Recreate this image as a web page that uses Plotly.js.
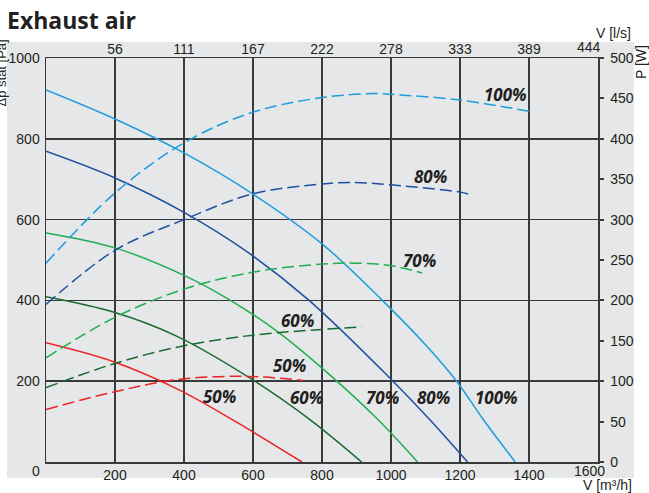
<!DOCTYPE html>
<html><head><meta charset="utf-8">
<script src="https://cdn.plot.ly/plotly-3.0.1.min.js"></script>
<style>html,body{margin:0;padding:0;background:#fff;}#chart{width:649px;height:493px;}</style>
</head><body><div id="chart"></div>
<script>
// Airflow V [m3/h] and static pressure Δp [Pa] (solid curves)
const pV100 = [0, 200, 400, 600, 800, 975, 1100, 1190, 1270, 1360];
const pP100 = [921, 849, 765, 663, 540, 400, 290, 200, 102, 0];
const pV80 = [0, 200, 400, 575, 760, 1000, 1110, 1222];
const pP80 = [769, 703, 618, 525, 402, 205, 107, 0];
const pV70 = [0, 200, 400, 531, 672, 834, 962, 1077];
const pP70 = [567, 530, 462, 402, 322, 207, 105, 0];
const pV60 = [0, 200, 380, 600, 765, 915];
const pP60 = [409, 370, 311, 203, 105, 0];
const pV50 = [0, 200, 380, 540, 742];
const pP50 = [295, 247, 181, 105, 0];
// Airflow V [m3/h] and power P [W] (dashed curves)
const wV100 = [0, 200, 400, 600, 800, 950, 1000, 1200, 1400];
const wP100 = [246, 333, 395, 433, 451, 456, 455, 448, 434];
const wV80 = [0, 200, 400, 600, 800, 880, 1000, 1200, 1238];
const wP80 = [195, 262, 300, 332, 344, 346, 343, 334, 330];
const wV70 = [0, 200, 400, 600, 800, 900, 1000, 1090];
const wP70 = [129, 179, 214, 235, 245, 246, 243, 234];
const wV60 = [0, 200, 390, 600, 800, 915];
const wP60 = [92, 122, 143, 157, 164, 167];
const wV50 = [0, 200, 380, 575, 746];
const wP50 = [65, 87, 102, 106, 101];
// Axis ticks
const m3hTicks = [200, 400, 600, 800, 1000, 1200, 1400];
const paTicks = [200, 400, 600, 800, 1000];
const lsTicks = [200, 400, 600, 800, 1000, 1200, 1400];
const lsText = ['56', '111', '167', '222', '278', '333', '389'];
const speedLabels = ['100%', '80%', '70%', '60%', '50%'];

const colors = ['#1b9ddb', '#1f4f9f', '#1fae50', '#186a31', '#ec2227'];
const pV = [pV100, pV80, pV70, pV60, pV50], pP = [pP100, pP80, pP70, pP60, pP50];
const wV = [wV100, wV80, wV70, wV60, wV50], wP = [wP100, wP80, wP70, wP60, wP50];

const traces = [];
for (let i = 0; i < 5; i++) {
  traces.push({x: pV[i], y: pP[i], type: 'scatter', mode: 'lines', name: speedLabels[i],
    line: {color: colors[i], width: 1.5, shape: 'spline', smoothing: 1}, hoverinfo: 'skip'});
  traces.push({x: wV[i], y: wP[i], type: 'scatter', mode: 'lines', name: speedLabels[i] + ' P', xaxis: 'x2', yaxis: 'y2',
    line: {color: colors[i], width: 1.5, dash: '12px,5px', shape: 'spline', smoothing: 1}, hoverinfo: 'skip'});
}

const L = 46, R = 598, T = 58, B = 462;
const X = px => (px - L) / (R - L);
const Y = py => (B - py) / (B - T);
const tickFont = {family: 'Liberation Sans, Arial, sans-serif', size: 14, color: '#231f20'};
const pctFont = {family: 'Open Sans, sans-serif', size: 17, color: '#231f20', weight: 'bold', style: 'italic'};
const gridC = '#3a3a3a';

const pctPos = [
  [505, 95], [430, 176], [419, 260], [297, 320], [289, 365],
  [496, 397], [433, 397], [382, 397], [306, 397], [219, 396]
];
const pctText = speedLabels.concat(speedLabels);

const annotations = pctPos.map((p, i) => ({
  xref: 'paper', yref: 'paper', x: X(p[0]), y: Y(p[1]), text: pctText[i],
  showarrow: false, xanchor: 'center', yanchor: 'middle', font: pctFont
}));
annotations.push(
  {xref: 'paper', yref: 'paper', x: X(36), y: Y(471), text: '0', showarrow: false, xanchor: 'center', yanchor: 'middle', font: tickFont},
  {xref: 'paper', yref: 'paper', x: X(589), y: Y(471), text: '1600', showarrow: false, xanchor: 'center', yanchor: 'middle', font: tickFont},
  {xref: 'paper', yref: 'paper', x: X(589), y: Y(47), text: '444', showarrow: false, xanchor: 'center', yanchor: 'middle', font: tickFont},
  {xref: 'paper', yref: 'paper', x: X(633), y: Y(33), text: 'V [l/s]', showarrow: false, xanchor: 'right', yanchor: 'middle', font: tickFont},
  {xref: 'paper', yref: 'paper', x: X(634), y: Y(485), text: 'V [m³/h]', showarrow: false, xanchor: 'right', yanchor: 'middle', font: tickFont},
  {xref: 'paper', yref: 'paper', x: X(641), y: Y(43), text: 'P [W]', showarrow: false, textangle: -90, xanchor: 'center', yanchor: 'top', font: tickFont},
  {xref: 'paper', yref: 'paper', x: X(1), y: Y(38), text: 'Δp stat [Pa]', showarrow: false, textangle: -90, xanchor: 'center', yanchor: 'top', font: {family: 'Liberation Sans, Arial, sans-serif', size: 13, color: '#231f20'}}
);

const layout = {
  width: 649, height: 493,
  margin: {l: L, r: 649 - R, t: T, b: 493 - B, pad: 0},
  paper_bgcolor: '#ffffff', plot_bgcolor: '#e6e7e8',
  showlegend: false,
  title: {text: '<b>Exhaust air</b>', x: 7 / 649, xref: 'container', xanchor: 'left', y: 1 - 21 / 493, yref: 'container', yanchor: 'middle',
    font: {family: 'Open Sans, sans-serif', size: 23, color: '#231f20'}},
  xaxis: {range: [0, 1600], tickvals: m3hTicks, showgrid: true, gridcolor: gridC, gridwidth: 1.5,
    showline: true, linecolor: gridC, linewidth: 1.5, mirror: true, zeroline: false, ticks: '', tickfont: tickFont, fixedrange: true},
  xaxis2: {range: [0, 1600], overlaying: 'x', side: 'top', anchor: 'y', tickvals: lsTicks, ticktext: lsText, showgrid: false,
    showline: false, zeroline: false, ticks: '', tickfont: tickFont, fixedrange: true},
  yaxis: {range: [0, 1000], tickvals: paTicks, showgrid: true, gridcolor: gridC, gridwidth: 1.5, showline: true, linecolor: gridC, linewidth: 1.5,
    mirror: true, zeroline: false, ticks: '', tickfont: tickFont, ticklabelstandoff: 2, fixedrange: true},
  yaxis2: {range: [0, 500], dtick: 50, overlaying: 'y', side: 'right', anchor: 'x', showgrid: false, showline: true, linecolor: gridC, linewidth: 1.5,
    zeroline: false, ticks: 'outside', ticklen: 4, tickwidth: 2, tickcolor: gridC, tickfont: tickFont, ticklabelstandoff: 4, fixedrange: true},
  yaxis3: {range: [0, 500], dtick: 50, overlaying: 'y', side: 'right', anchor: 'x', showgrid: false, showline: false,
    zeroline: false, ticks: 'inside', ticklen: 4, tickwidth: 2, tickcolor: gridC, showticklabels: false, fixedrange: true},
  shapes: [{type: 'rect', xref: 'paper', yref: 'paper', x0: X(7), x1: X(634), y0: Y(478), y1: Y(42),
    fillcolor: '#e6e7e8', line: {width: 0}, layer: 'below'}],
  annotations: annotations
};

Plotly.newPlot('chart', traces, layout, {staticPlot: true, displayModeBar: false});
</script></body></html>
